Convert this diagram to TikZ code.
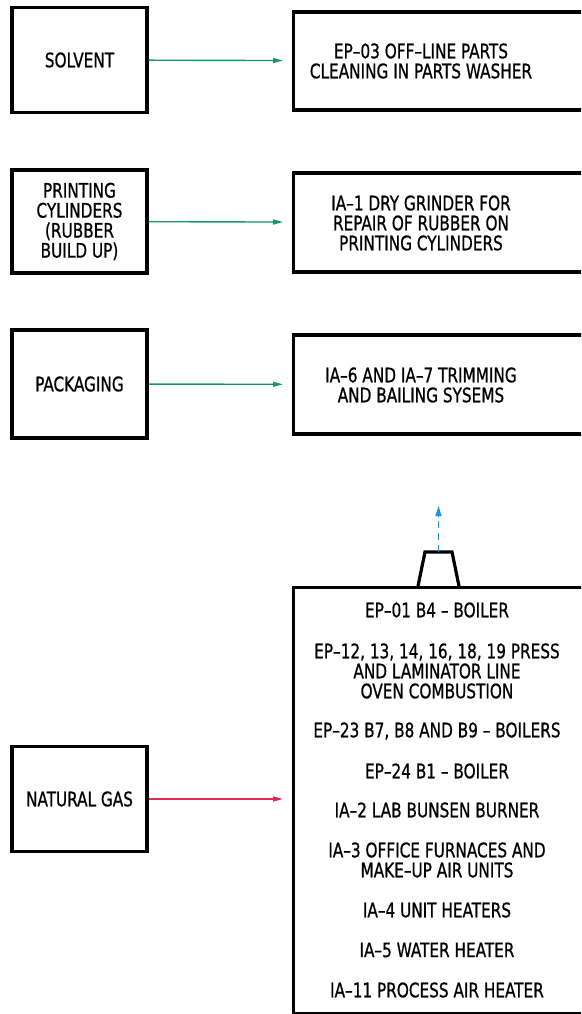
\documentclass[tikz,border=0pt]{standalone}
\usepackage{fontspec}
\setmainfont{DejaVu Sans Condensed}[FakeStretch=0.85, FakeBold=0.8]
\usetikzlibrary{arrows.meta,positioning}
\definecolor{flowgreen}{RGB}{20,150,110}
\definecolor{flowred}{RGB}{225,40,85}
\definecolor{ventblue}{RGB}{30,145,225}

\begin{document}
\begin{tikzpicture}[x=1pt, y=-1pt,
  srcbox/.style={draw, line width=3.2pt, minimum width=135pt, minimum height=105pt, inner sep=0pt, font=\fontsize{20}{20}\selectfont, align=center},
  outbox/.style={draw, line width=3.2pt, minimum width=310pt, inner sep=0pt},
  lbl/.style={font=\fontsize{20}{20}\selectfont, align=center},
  flow/.style={line width=1.4pt, -{Triangle[length=10pt, width=5pt]}, shorten >=9pt}]

\useasboundingbox (0,0) rectangle (581,1014);
\clip (0,0) rectangle (581,1014);

\node[srcbox] (solvent) at (79.5,60) {SOLVENT};
\node[outbox, minimum height=98pt, anchor=west] (washer) at (292,61) {};
\node[lbl] at (421,61) {EP--03 OFF--LINE PARTS\\CLEANING IN PARTS WASHER};

\node[srcbox, minimum height=103pt] (cylinders) at (79.5,221.5) {PRINTING\\CYLINDERS\\(RUBBER\\BUILD UP)};
\node[outbox, minimum height=99pt, anchor=west] (grinder) at (292,222.5) {};
\node[lbl] at (421,223) {IA--1 DRY GRINDER FOR\\REPAIR OF RUBBER ON\\PRINTING CYLINDERS};

\node[srcbox, minimum height=108pt] (packaging) at (79.5,384) {PACKAGING};
\node[outbox, minimum height=99pt, anchor=west] (trimming) at (292,384.5) {};
\node[lbl] at (421,385) {IA--6 AND IA--7 TRIMMING\\AND BAILING SYSEMS};

\node[srcbox] (natgas) at (79.5,799) {NATURAL GAS};
\node[outbox, minimum height=426pt, anchor=north west] (burners) at (292,586) {};

% combustion units
\node[lbl] at (437,610) {EP--01 B4 -- BOILER};
\node[lbl] at (437,671) {EP--12, 13, 14, 16, 18, 19 PRESS\\AND LAMINATOR LINE\\OVEN COMBUSTION};
\node[lbl] at (437,731) {EP--23 B7, B8 AND B9 -- BOILERS};
\node[lbl] at (437,771) {EP--24 B1 -- BOILER};
\node[lbl] at (437,810) {IA--2 LAB BUNSEN BURNER};
\node[lbl] at (437,860) {IA--3 OFFICE FURNACES AND\\MAKE--UP AIR UNITS};
\node[lbl] at (437,910) {IA--4 UNIT HEATERS};
\node[lbl] at (437,950) {IA--5 WATER HEATER};
\node[lbl] at (437,990) {IA--11 PROCESS AIR HEATER};

% stack
\draw[line width=3.2pt, line join=miter] (418,586) -- (425,552) -- (452,552) -- (459,586);
\coordinate (stackmid) at (438.5,552);
\coordinate (ventend) at (438.5,506);

\draw[flow, draw=flowgreen, fill=flowgreen] (solvent) -- (washer);
\draw[flow, draw=flowgreen, fill=flowgreen] (cylinders) -- (grinder);
\draw[flow, draw=flowgreen, fill=flowgreen] (packaging) -- (trimming);
\draw[flow, draw=flowred, fill=flowred] (natgas) -- (natgas -| burners.west);
\draw[line width=1.4pt, draw=ventblue, dash pattern=on 7pt off 5pt, -{Triangle[length=10pt, width=6pt, fill=ventblue]}] (stackmid) -- (ventend);

\end{tikzpicture}
\end{document}
